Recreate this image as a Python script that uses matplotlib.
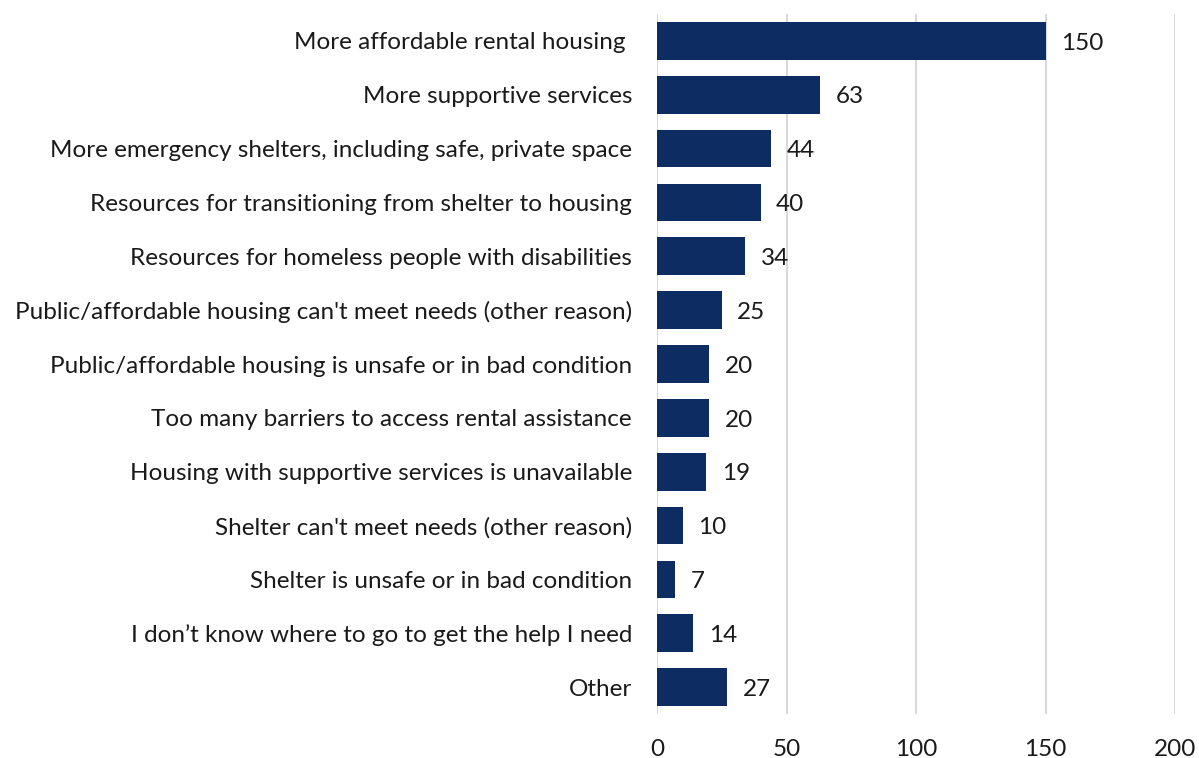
import matplotlib
matplotlib.use("Agg")
import matplotlib.pyplot as plt

categories = [
    "More affordable rental housing ",
    "More supportive services",
    "More emergency shelters, including safe, private space",
    "Resources for transitioning from shelter to housing",
    "Resources for homeless people with disabilities",
    "Public/affordable housing can't meet needs (other reason)",
    "Public/affordable housing is unsafe or in bad condition",
    "Too many barriers to access rental assistance",
    "Housing with supportive services is unavailable",
    "Shelter can't meet needs (other reason)",
    "Shelter is unsafe or in bad condition",
    "I don\u2019t know where to go to get the help I need",
    "Other",
]
values = [150, 63, 44, 40, 34, 25, 20, 20, 19, 10, 7, 14, 27]
xticks = [0, 50, 100, 150, 200]

plt.rcParams['font.family'] = ['Lato', 'DejaVu Sans']

fig = plt.figure(figsize=(11.99, 7.58), dpi=100)
ax = fig.add_axes([0.548, 0.058, 0.432, 0.9235])

y = list(range(len(categories)))
ax.barh(y, values, height=0.7, color='#0D2D62', zorder=3)
ax.set_ylim(len(categories) - 0.5, -0.5)
ax.set_xlim(0, 200)
ax.set_yticks(y)
ax.set_yticklabels(categories, fontsize=17.5, color='#1a1a1a')
ax.set_xticks(xticks)
ax.set_xticklabels([str(t) for t in xticks], fontsize=17.5, color='#1a1a1a')
ax.tick_params(axis='y', length=0, pad=18)
ax.tick_params(axis='x', length=0, pad=18)
ax.grid(axis='x', color='#D9D9D9', linewidth=1.5, zorder=0)
for s in ax.spines.values():
    s.set_visible(False)

for yi, v in zip(y, values):
    ax.text(v + 6, yi + 0.04, str(v), va='center', ha='left', fontsize=17.5, color='#1a1a1a')

fig.savefig("out.png", dpi=100)
